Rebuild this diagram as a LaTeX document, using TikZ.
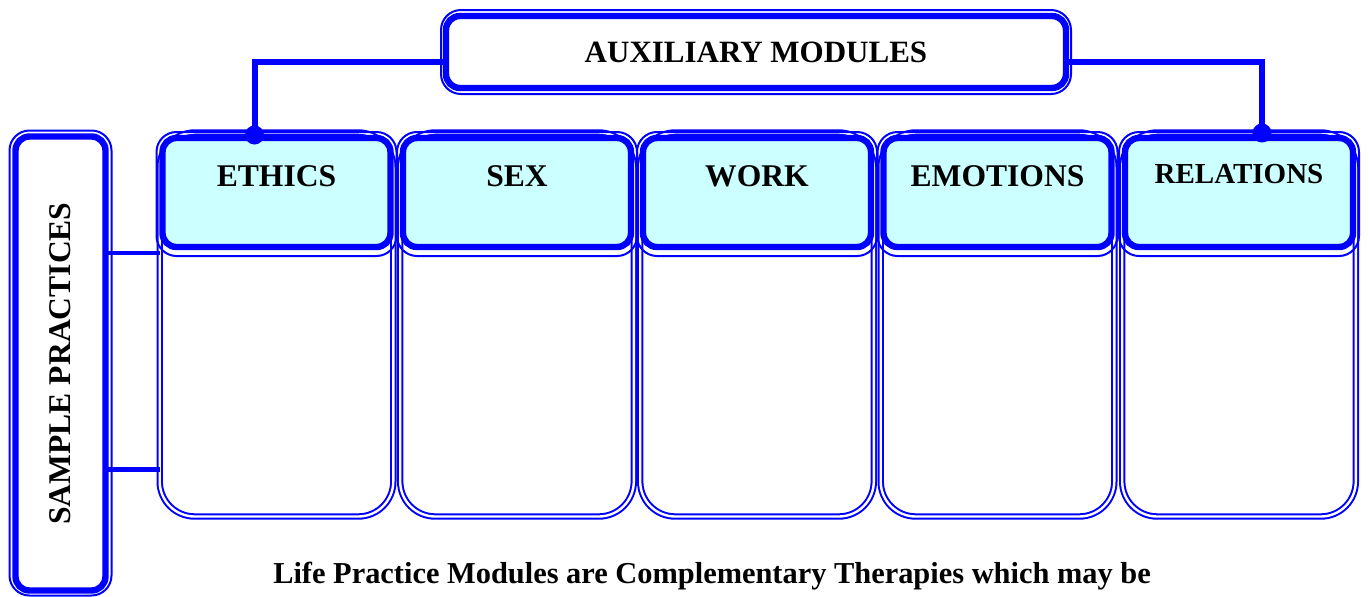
\documentclass[tikz,border=0pt]{standalone}
\usepackage{fontspec}
\setmainfont{Liberation Serif}
\usetikzlibrary{positioning,calc}
\definecolor{modblue}{RGB}{0,0,255}
\definecolor{modcyan}{RGB}{204,255,255}

\begin{document}
\begin{tikzpicture}[
  x=0.5pt, y=-0.5pt,
  every node/.style={font=\fontsize{15.8}{19}\selectfont\bfseries},
  ring/.style={draw=modblue, line width=1pt, rounded corners=10pt},
  frame/.style={draw=modblue, line width=3.2pt, rounded corners=7pt, outer sep=0pt, inner sep=0pt},
  head/.style={frame, fill=modcyan, minimum width=114pt, minimum height=54.5pt, text height=11pt, text depth=17.5pt},
  body/.style={draw=modblue, double=white, double distance=1.2pt, line width=1pt, rounded corners=17.5pt, minimum width=116.8pt, minimum height=192pt, outer sep=0pt},
  trunk/.style={draw=modblue, line width=3pt},
  link/.style={draw=modblue, line width=2.2pt},
  dot/.style={circle, fill=modblue, inner sep=0pt, minimum size=9.5pt}
]
\useasboundingbox (0,0) rectangle (1370,596);

% practice columns
\node[body] (b1) at (276.5,324.5) {};
\node[body] (b2) at (517,324.5) {};
\node[body] (b3) at (757,324.5) {};
\node[body] (b4) at (997.5,324.5) {};
\node[body] (b5) at (1239,324.5) {};

\node[head, below=2.75pt of b1.north] (ethics) {ETHICS};
\node[head, below=2.75pt of b2.north] (sex) {SEX};
\node[head, below=2.75pt of b3.north] (work) {WORK};
\node[head, below=2.75pt of b4.north] (emotions) {EMOTIONS};
\node[head, below=2.75pt of b5.north, font=\fontsize{14.5}{17}\selectfont\bfseries, text depth=20pt] (relations) {RELATIONS};

\foreach \h in {ethics,sex,work,emotions,relations}
  \draw[ring] ($(\h.north west)+(-6,-6)$) rectangle ($(\h.south east)+(6,9)$);

% auxiliary box
\node[frame, minimum width=310pt, minimum height=36pt, font=\fontsize{15.5}{19}\selectfont\bfseries] (aux) at (756,52) {AUXILIARY MODULES};
\draw[ring] ($(aux.north west)+(-5,-6)$) rectangle ($(aux.south east)+(5,6)$);

\node[dot] (dotl) at ($(ethics.north)+(-22,-3)$) {};
\node[dot] (dotr) at ($(relations.north)+(23,-5)$) {};
\draw[trunk] ($(aux.west)+(0,10)$) -| (dotl.center);
\draw[trunk] ($(aux.east)+(0,10)$) -| (dotr.center);

% sample practices
\node[frame, minimum width=45pt, minimum height=227pt] (sample) at (60.5,363.5) {\rotatebox{90}{SAMPLE PRACTICES}};
\draw[ring] ($(sample.north west)+(-6,-6)$) rectangle ($(sample.south east)+(6,5)$);

\draw[link] ($(sample.east |- ethics.south)+(0,6)$) -- ($(b1.west |- ethics.south)+(0,6)$);
\draw[link] ($(sample.east |- b1.south)+(0,-47)$) -- ($(b1.west |- b1.south)+(0,-47)$);

\node[anchor=base, font=\fontsize{15.2}{19}\selectfont\bfseries] (note) at (712,583) {Life Practice Modules are Complementary Therapies which may be};
\end{tikzpicture}
\end{document}
